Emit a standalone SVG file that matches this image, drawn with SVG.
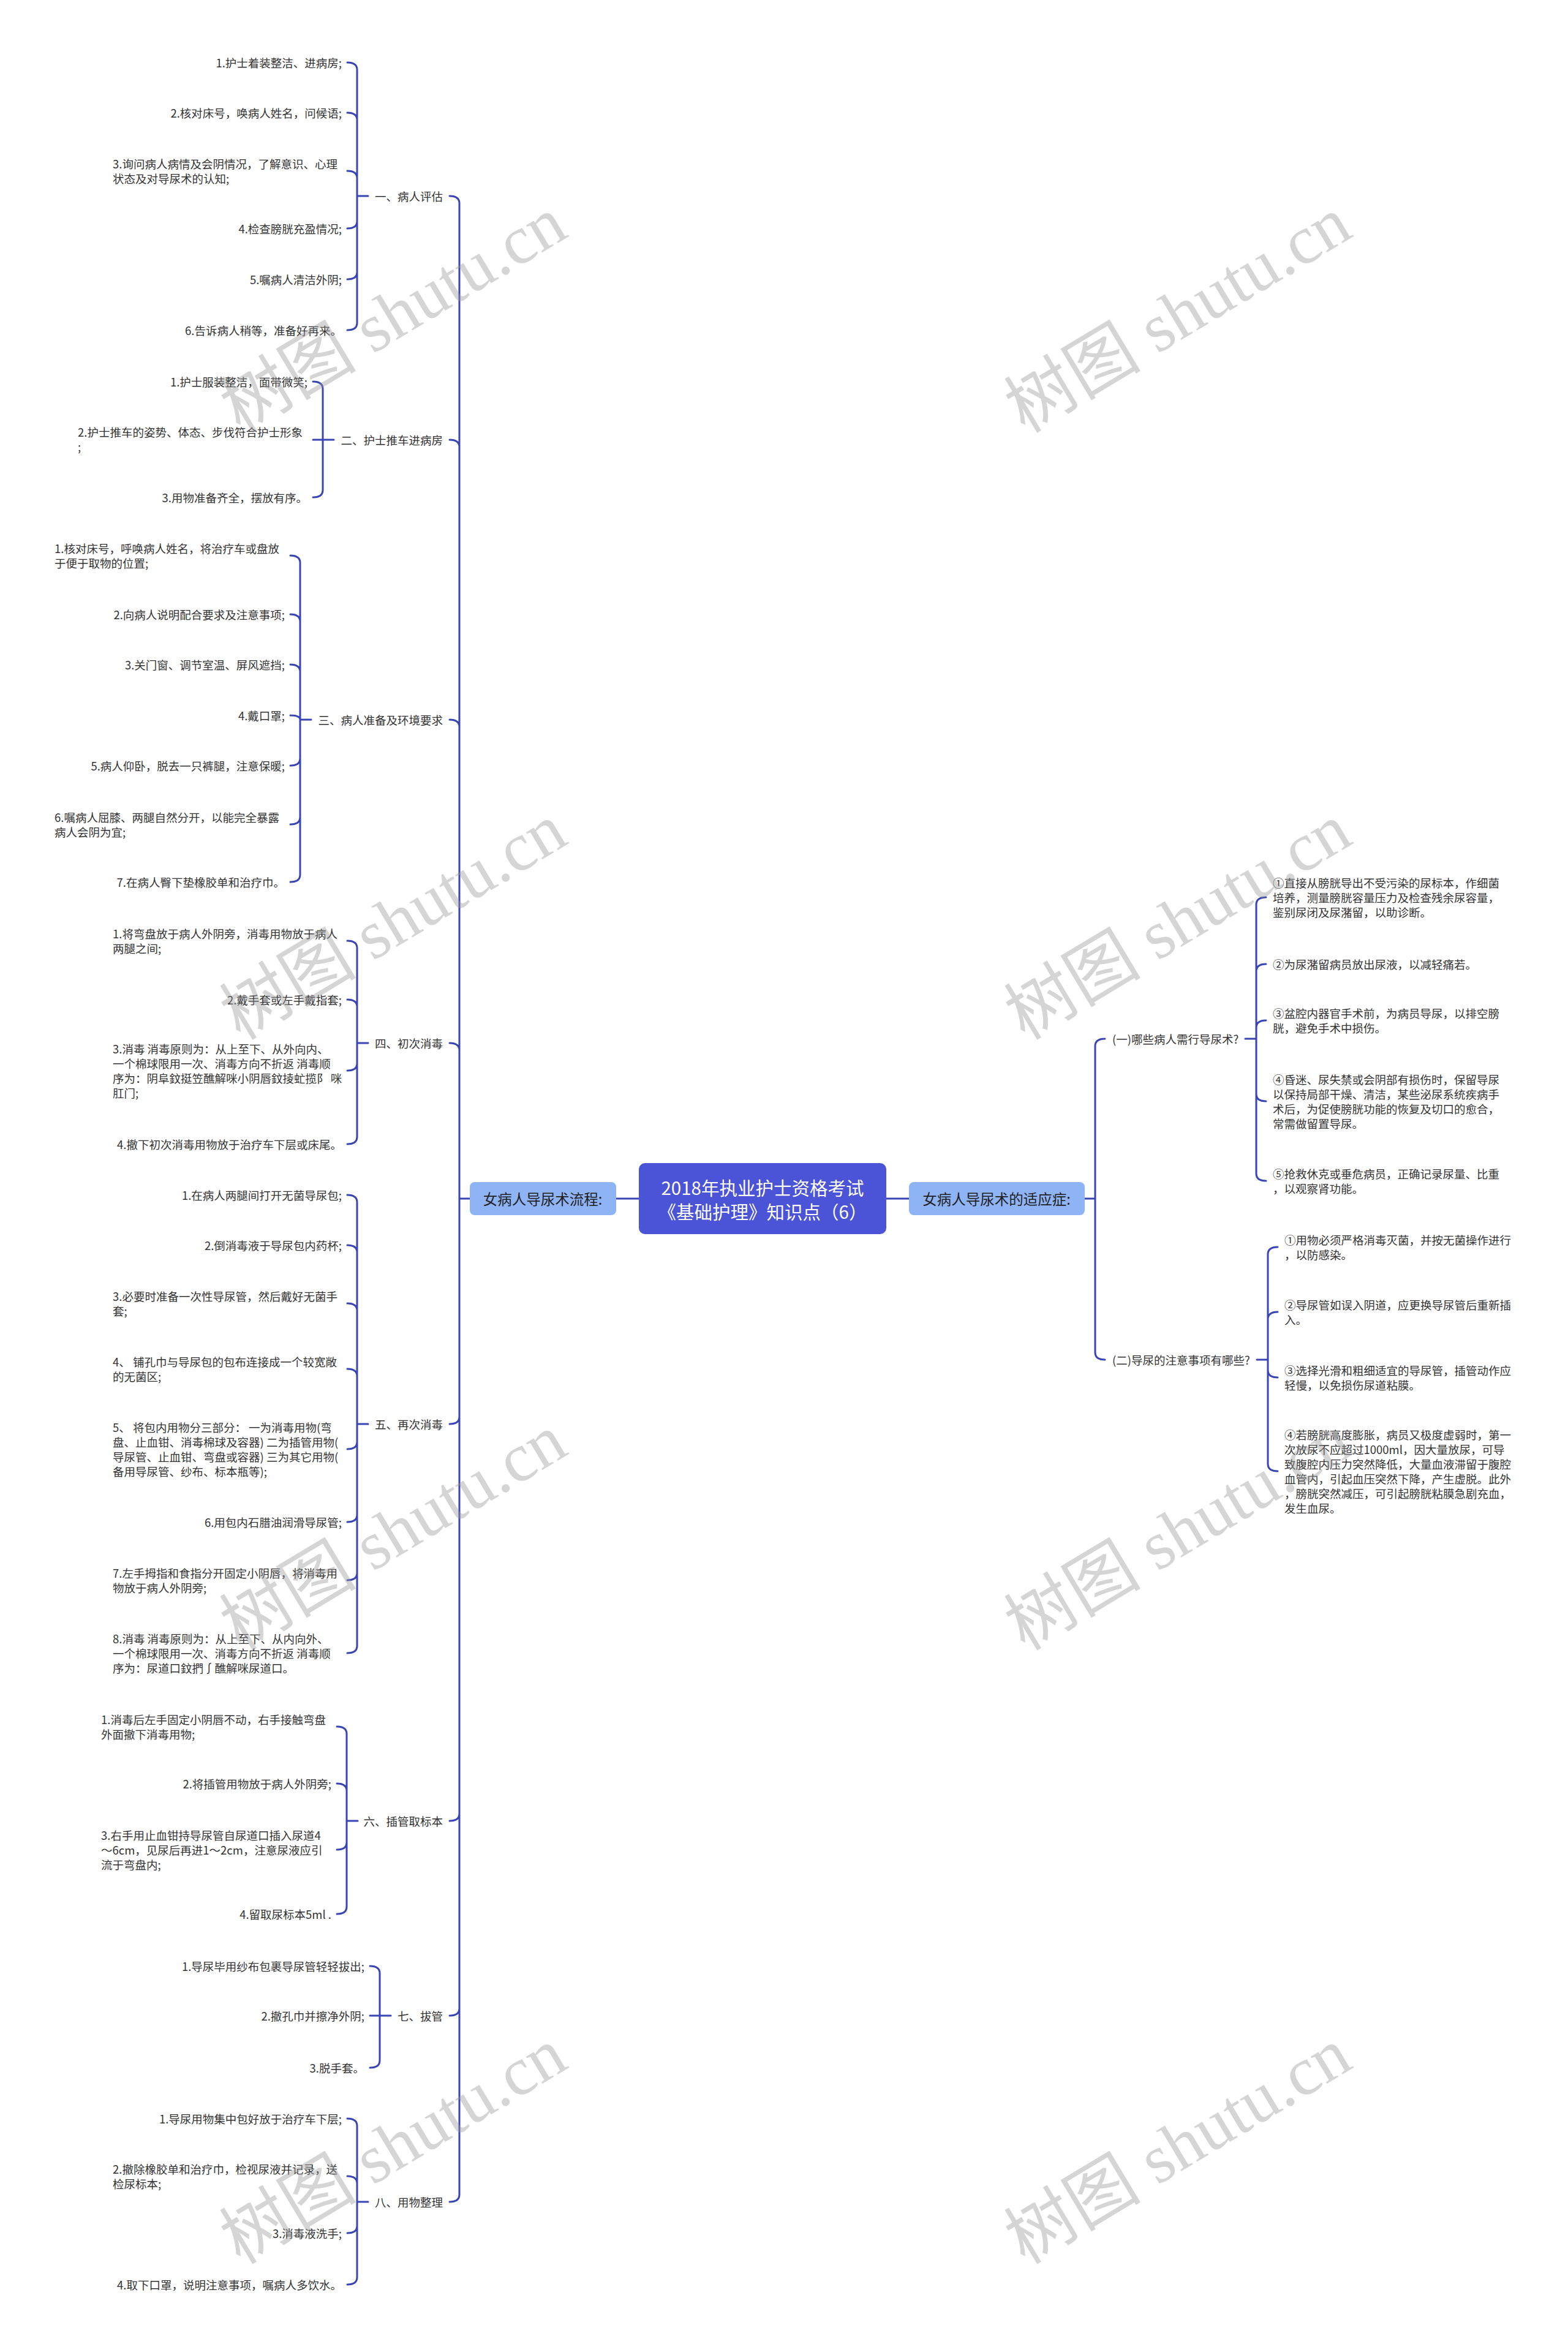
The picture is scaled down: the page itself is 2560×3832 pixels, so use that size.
<svg xmlns="http://www.w3.org/2000/svg" width="2560" height="3832" viewBox="0 0 2560 3832">
<style>
.t{font-family:"Noto Sans CJK SC","Noto Sans",sans-serif;font-size:18.5px;fill:#333;dominant-baseline:central}
.e{text-anchor:end}
.c{stroke:#3A45B5;stroke-width:3;fill:none;stroke-linecap:round}
.l1{fill:#8FB4F6}
.l1t{font-family:"Noto Sans CJK SC","Noto Sans",sans-serif;font-size:23.5px;fill:#1f1f1f;dominant-baseline:central;text-anchor:middle}
.wm{font-family:"Liberation Serif","Noto Sans CJK SC",serif;font-size:112px;fill:#999;opacity:0.4;text-anchor:middle;dominant-baseline:central}
</style>
<rect width="2560" height="3832" fill="#fff"/>
<g id="connectors">
<path class="c" d="M1006,1957H1043M1447,1957H1484"/>
<path class="c" d="M767,1957H750M750,1957V332Q750,320 734,320M750,1957V730Q750,718 734,718M750,1957V1187Q750,1175 734,1175M750,1957V1715Q750,1703 734,1703M750,1957V2313Q750,2325 734,2325M750,1957V2961Q750,2973 734,2973M750,1957V3279Q750,3291 734,3291M750,1957V3583Q750,3595 734,3595"/>
<path class="c" d="M583,320H601M583,320V114Q583,102 567,102M583,320V196Q583,184 567,184M583,320V291Q583,279 567,279M583,320V361Q583,373 567,373M583,320V444Q583,456 567,456M583,320V527Q583,539 567,539"/>
<path class="c" d="M527,718H545M527,718V635Q527,623 511,623M527,718H511M527,718V800Q527,812 511,812"/>
<path class="c" d="M490,1175H508M490,1175V919Q490,907 474,907M490,1175V1015Q490,1003 474,1003M490,1175V1097Q490,1085 474,1085M490,1175Q490,1168 474,1168M490,1175V1238Q490,1250 474,1250M490,1175V1334Q490,1346 474,1346M490,1175V1428Q490,1440 474,1440"/>
<path class="c" d="M583,1703H601M583,1703V1548Q583,1536 567,1536M583,1703V1644Q583,1632 567,1632M583,1703V1736Q583,1748 567,1748M583,1703V1856Q583,1868 567,1868"/>
<path class="c" d="M583,2325H601M583,2325V1963Q583,1951 567,1951M583,2325V2045Q583,2033 567,2033M583,2325V2140Q583,2128 567,2128M583,2325V2247Q583,2235 567,2235M583,2325V2354Q583,2366 567,2366M583,2325V2473Q583,2485 567,2485M583,2325V2568Q583,2580 567,2580M583,2325V2687Q583,2699 567,2699"/>
<path class="c" d="M566,2973H584M566,2973V2831Q566,2819 550,2819M566,2973V2924Q566,2912 550,2912M566,2973V3008Q566,3020 550,3020M566,2973V3113Q566,3125 550,3125"/>
<path class="c" d="M620,3291H638M620,3291V3222Q620,3210 604,3210M620,3291H604M620,3291V3364Q620,3376 604,3376"/>
<path class="c" d="M583,3595H601M583,3595V3471Q583,3459 567,3459M583,3595V3565Q583,3553 567,3553M583,3595V3634Q583,3646 567,3646M583,3595V3718Q583,3730 567,3730"/>
<path class="c" d="M1771,1957H1788M1788,1957V1708Q1788,1696 1804,1696M1788,1957V2208Q1788,2220 1804,2220"/>
<path class="c" d="M2033,1696H2051M2051,1696V1477Q2051,1465 2067,1465M2051,1696V1586Q2051,1574 2067,1574M2051,1696V1678Q2051,1666 2067,1666M2051,1696V1786Q2051,1798 2067,1798M2051,1696V1916Q2051,1928 2067,1928"/>
<path class="c" d="M2052,2220H2070M2070,2220V2048Q2070,2036 2086,2036M2070,2220V2154Q2070,2142 2086,2142M2070,2220V2237Q2070,2249 2086,2249M2070,2220V2390Q2070,2402 2086,2402"/>
</g>
<g id="root">
<rect x="1043" y="1899" width="404" height="116" rx="10" fill="#4B53D6"/>
<text font-family="'Noto Sans CJK SC','Noto Sans',sans-serif" font-size="29.5" fill="#fff" text-anchor="middle" dominant-baseline="central"><tspan x="1245" y="1938">2018年执业护士资格考试</tspan><tspan x="1245" y="1977">《基础护理》知识点（6）</tspan></text>
</g>
<g id="n-left"><rect class="l1" x="767" y="1930" width="239" height="54" rx="8"/><text class="l1t" x="886" y="1957">女病人导尿术流程:</text></g>
<g id="n-right"><rect class="l1" x="1484" y="1930" width="287" height="54" rx="8"/><text class="l1t" x="1627" y="1957">女病人导尿术的适应症:</text></g>

<g id="g1"><text class="t e" x="723" y="320">一、病人评估</text></g>
<g id="g1-1"><text class="t e" x="558" y="102">1.护士着装整洁、进病房;</text></g>
<g id="g1-2"><text class="t e" x="558" y="184">2.核对床号，唤病人姓名，问候语;</text></g>
<g id="g1-3"><text class="t" x="184" y="267"><tspan x="184" y="267">3.询问病人病情及会阴情况，了解意识、心理</tspan><tspan x="184" y="291">状态及对导尿术的认知;</tspan></text></g>
<g id="g1-4"><text class="t e" x="558" y="373">4.检查膀胱充盈情况;</text></g>
<g id="g1-5"><text class="t e" x="558" y="456">5.嘱病人清洁外阴;</text></g>
<g id="g1-6"><text class="t e" x="558" y="539">6.告诉病人稍等，准备好再来。</text></g>

<g id="g2"><text class="t e" x="723" y="718">二、护士推车进病房</text></g>
<g id="g2-1"><text class="t e" x="502" y="623">1.护士服装整洁，面带微笑;</text></g>
<g id="g2-2"><text class="t"><tspan x="127" y="705">2.护士推车的姿势、体态、步伐符合护士形象</tspan><tspan x="127" y="729">;</tspan></text></g>
<g id="g2-3"><text class="t e" x="502" y="812">3.用物准备齐全，摆放有序。</text></g>

<g id="g3"><text class="t e" x="723" y="1175">三、病人准备及环境要求</text></g>
<g id="g3-1"><text class="t"><tspan x="89" y="895">1.核对床号，呼唤病人姓名，将治疗车或盘放</tspan><tspan x="89" y="919">于便于取物的位置;</tspan></text></g>
<g id="g3-2"><text class="t e" x="465" y="1003">2.向病人说明配合要求及注意事项;</text></g>
<g id="g3-3"><text class="t e" x="465" y="1085">3.关门窗、调节室温、屏风遮挡;</text></g>
<g id="g3-4"><text class="t e" x="465" y="1168">4.戴口罩;</text></g>
<g id="g3-5"><text class="t e" x="465" y="1250">5.病人仰卧，脱去一只裤腿，注意保暖;</text></g>
<g id="g3-6"><text class="t"><tspan x="89" y="1334">6.嘱病人屈膝、两腿自然分开，以能完全暴露</tspan><tspan x="89" y="1358">病人会阴为宜;</tspan></text></g>
<g id="g3-7"><text class="t e" x="465" y="1440">7.在病人臀下垫橡胶单和治疗巾。</text></g>

<g id="g4"><text class="t e" x="723" y="1703">四、初次消毒</text></g>
<g id="g4-1"><text class="t"><tspan x="184" y="1524">1.将弯盘放于病人外阴旁，消毒用物放于病人</tspan><tspan x="184" y="1548">两腿之间;</tspan></text></g>
<g id="g4-2"><text class="t e" x="558" y="1632">2.戴手套或左手戴指套;</text></g>
<g id="g4-3"><text class="t"><tspan x="184" y="1712">3.消毒 消毒原则为：从上至下、从外向内、</tspan><tspan x="184" y="1736">一个棉球限用一次、消毒方向不折返 消毒顺</tspan><tspan x="184" y="1760">序为：阴阜鈫挺笠醮解咪小阴唇鈫掕虻揽阝 咪</tspan><tspan x="184" y="1784">肛门;</tspan></text></g>
<g id="g4-4"><text class="t e" x="558" y="1868">4.撤下初次消毒用物放于治疗车下层或床尾。</text></g>

<g id="g5"><text class="t e" x="723" y="2325">五、再次消毒</text></g>
<g id="g5-1"><text class="t e" x="558" y="1951">1.在病人两腿间打开无菌导尿包;</text></g>
<g id="g5-2"><text class="t e" x="558" y="2033">2.倒消毒液于导尿包内药杯;</text></g>
<g id="g5-3"><text class="t"><tspan x="184" y="2116">3.必要时准备一次性导尿管，然后戴好无菌手</tspan><tspan x="184" y="2140">套;</tspan></text></g>
<g id="g5-4"><text class="t"><tspan x="184" y="2223">4、 铺孔巾与导尿包的包布连接成一个较宽敞</tspan><tspan x="184" y="2247">的无菌区;</tspan></text></g>
<g id="g5-5"><text class="t"><tspan x="184" y="2330">5、 将包内用物分三部分：  一为消毒用物(弯</tspan><tspan x="184" y="2354">盘、止血钳、消毒棉球及容器) 二为插管用物(</tspan><tspan x="184" y="2378">导尿管、止血钳、弯盘或容器) 三为其它用物(</tspan><tspan x="184" y="2402">备用导尿管、纱布、标本瓶等);</tspan></text></g>
<g id="g5-6"><text class="t e" x="558" y="2485">6.用包内石腊油润滑导尿管;</text></g>
<g id="g5-7"><text class="t"><tspan x="184" y="2568">7.左手拇指和食指分开固定小阴唇，将消毒用</tspan><tspan x="184" y="2592">物放于病人外阴旁;</tspan></text></g>
<g id="g5-8"><text class="t"><tspan x="184" y="2675">8.消毒 消毒原则为：从上至下、从内向外、</tspan><tspan x="184" y="2699">一个棉球限用一次、消毒方向不折返 消毒顺</tspan><tspan x="184" y="2723">序为：尿道口鈫捫∫醮解咪尿道口。</tspan></text></g>

<g id="g6"><text class="t e" x="723" y="2973">六、插管取标本</text></g>
<g id="g6-1"><text class="t"><tspan x="165" y="2807">1.消毒后左手固定小阴唇不动，右手接触弯盘</tspan><tspan x="165" y="2831">外面撤下消毒用物;</tspan></text></g>
<g id="g6-2"><text class="t e" x="541" y="2912">2.将插管用物放于病人外阴旁;</text></g>
<g id="g6-3"><text class="t"><tspan x="165" y="2996">3.右手用止血钳持导尿管自尿道口插入尿道4</tspan><tspan x="165" y="3020">～6cm，见尿后再进1～2cm，注意尿液应引</tspan><tspan x="165" y="3044">流于弯盘内;</tspan></text></g>
<g id="g6-4"><text class="t e" x="541" y="3125">4.留取尿标本5ml .</text></g>

<g id="g7"><text class="t e" x="723" y="3291">七、拔管</text></g>
<g id="g7-1"><text class="t e" x="595" y="3210">1.导尿毕用纱布包裹导尿管轻轻拔出;</text></g>
<g id="g7-2"><text class="t e" x="595" y="3291">2.撤孔巾并擦净外阴;</text></g>
<g id="g7-3"><text class="t e" x="595" y="3376">3.脱手套。</text></g>

<g id="g8"><text class="t e" x="723" y="3595">八、用物整理</text></g>
<g id="g8-1"><text class="t e" x="558" y="3459">1.导尿用物集中包好放于治疗车下层;</text></g>
<g id="g8-2"><text class="t"><tspan x="184" y="3541">2.撤除橡胶单和治疗巾，检视尿液并记录，送</tspan><tspan x="184" y="3565">检尿标本;</tspan></text></g>
<g id="g8-3"><text class="t e" x="558" y="3646">3.消毒液洗手;</text></g>
<g id="g8-4"><text class="t e" x="558" y="3730">4.取下口罩，说明注意事项，嘱病人多饮水。</text></g>

<g id="r1"><text class="t" x="1816" y="1696">(一)哪些病人需行导尿术?</text></g>
<g id="r1-1"><text class="t"><tspan x="2078" y="1441">①直接从膀胱导出不受污染的尿标本，作细菌</tspan><tspan x="2078" y="1465">培养，测量膀胱容量压力及检查残余尿容量，</tspan><tspan x="2078" y="1489">鉴别尿闭及尿潴留，以助诊断。</tspan></text></g>
<g id="r1-2"><text class="t" x="2078" y="1574">②为尿潴留病员放出尿液，以减轻痛若。</text></g>
<g id="r1-3"><text class="t"><tspan x="2078" y="1654">③盆腔内器官手术前，为病员导尿，以排空膀</tspan><tspan x="2078" y="1678">胱，避免手术中损伤。</tspan></text></g>
<g id="r1-4"><text class="t"><tspan x="2078" y="1762">④昏迷、尿失禁或会阴部有损伤时，保留导尿</tspan><tspan x="2078" y="1786">以保持局部干燥、清洁，某些泌尿系统疾病手</tspan><tspan x="2078" y="1810">术后，为促使膀胱功能的恢复及切口的愈合，</tspan><tspan x="2078" y="1834">常需做留置导尿。</tspan></text></g>
<g id="r1-5"><text class="t"><tspan x="2078" y="1916">⑤抢救休克或垂危病员，正确记录尿量、比重</tspan><tspan x="2078" y="1940">，以观察肾功能。</tspan></text></g>

<g id="r2"><text class="t" x="1816" y="2220">(二)导尿的注意事项有哪些?</text></g>
<g id="r2-1"><text class="t"><tspan x="2097" y="2024">①用物必须严格消毒灭菌，并按无菌操作进行</tspan><tspan x="2097" y="2048">，以防感染。</tspan></text></g>
<g id="r2-2"><text class="t"><tspan x="2097" y="2130">②导尿管如误入阴道，应更换导尿管后重新插</tspan><tspan x="2097" y="2154">入。</tspan></text></g>
<g id="r2-3"><text class="t"><tspan x="2097" y="2237">③选择光滑和粗细适宜的导尿管，插管动作应</tspan><tspan x="2097" y="2261">轻慢，以免损伤尿道粘膜。</tspan></text></g>
<g id="r2-4"><text class="t"><tspan x="2097" y="2342">④若膀胱高度膨胀，病员又极度虚弱时，第一</tspan><tspan x="2097" y="2366">次放尿不应超过1000ml，因大量放尿，可导</tspan><tspan x="2097" y="2390">致腹腔内压力突然降低，大量血液滞留于腹腔</tspan><tspan x="2097" y="2414">血管内，引起血压突然下降，产生虚脱。此外</tspan><tspan x="2097" y="2438">，膀胱突然减压，可引起膀胱粘膜急剧充血，</tspan><tspan x="2097" y="2462">发生血尿。</tspan></text></g>

<g id="watermarks">
<text class="wm" transform="translate(642,514) rotate(-31)">树图 shutu.cn</text>
<text class="wm" transform="translate(1923,514) rotate(-31)">树图 shutu.cn</text>
<text class="wm" transform="translate(642,1505) rotate(-31)">树图 shutu.cn</text>
<text class="wm" transform="translate(1923,1505) rotate(-31)">树图 shutu.cn</text>
<text class="wm" transform="translate(642,2502) rotate(-31)">树图 shutu.cn</text>
<text class="wm" transform="translate(1923,2502) rotate(-31)">树图 shutu.cn</text>
<text class="wm" transform="translate(642,3504) rotate(-31)">树图 shutu.cn</text>
<text class="wm" transform="translate(1923,3504) rotate(-31)">树图 shutu.cn</text>
</g>
</svg>
